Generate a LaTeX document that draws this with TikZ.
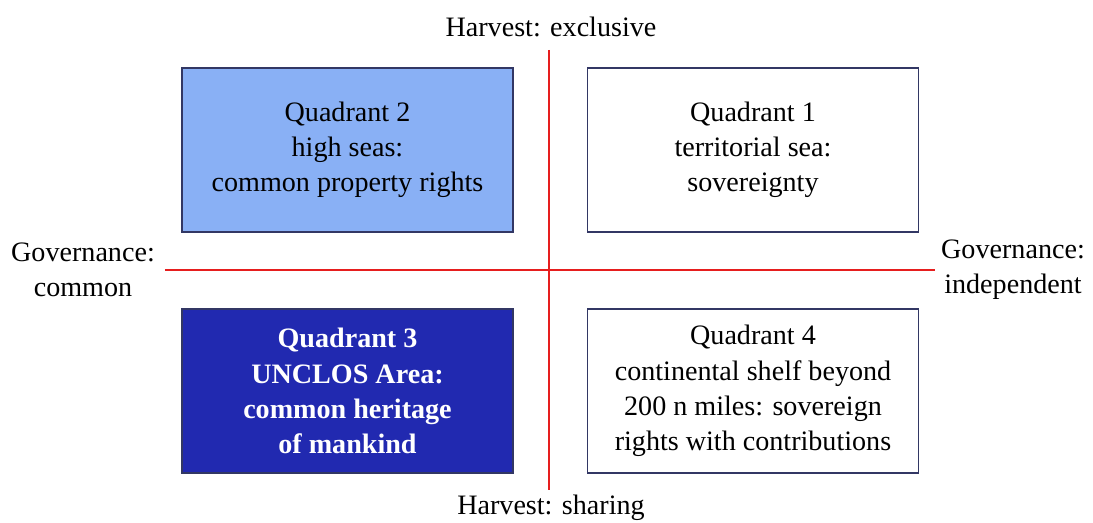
\documentclass[tikz,border=0pt]{standalone}
\usepackage{fontspec}
\setmainfont{Liberation Serif}
\definecolor{seablue}{RGB}{137,176,245}
\definecolor{areablue}{RGB}{33,41,176}
\definecolor{boxline}{RGB}{50,55,100}
\definecolor{axisred}{RGB}{230,30,30}
\tikzset{
  quad/.style={draw=boxline,line width=0.8pt,minimum width=6.62cm,minimum height=3.28cm,align=center,inner sep=0pt},
  axislabel/.style={align=center,inner sep=0pt},
  axis/.style={draw=axisred,line width=1pt}
}
\begin{document}
\begin{tikzpicture}[font=\fontsize{16}{20}\selectfont]
\useasboundingbox (-10.98,-5.06) rectangle (10.88,5.4);

\coordinate (top) at (0,4.4);
\coordinate (bottom) at (0,-4.4);
\coordinate (left) at (-7.68,0);
\coordinate (right) at (7.72,0);

\path[axis] (top) -- (bottom);
\path[axis] (left) -- (right);

\node[quad,fill=seablue] (q2) at (-4.03,2.40) {Quadrant 2\\high seas:\\common property rights};
\node[quad,fill=white] (q1) at (4.08,2.40) {Quadrant 1\\territorial sea:\\sovereignty};
\node[quad,fill=areablue,text=white,font=\fontsize{16}{20}\selectfont\bfseries] (q3) at (-4.03,-2.42) {Quadrant 3\\UNCLOS Area:\\common heritage\\of mankind};
\node[quad,fill=white] (q4) at (4.08,-2.42) {Quadrant 4\\continental shelf beyond\\200 n miles: sovereign\\rights with contributions};

\node[axislabel] (exclusive) at (0.04,4.86) {Harvest: exclusive};
\node[axislabel] (sharing) at (0.04,-4.76) {Harvest: sharing};
\node[axislabel] (common) at (-9.32,0) {Governance:\\common};
\node[axislabel] (independent) at (9.28,0) {Governance:\\independent};
\end{tikzpicture}
\end{document}
